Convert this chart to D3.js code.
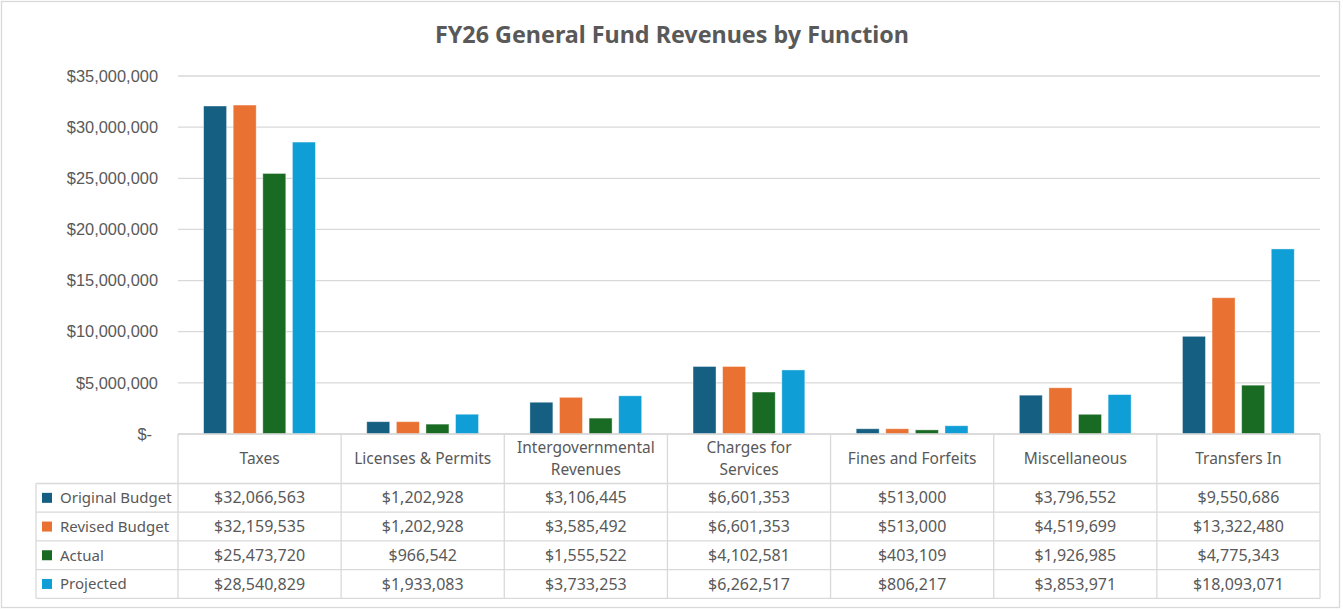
<!DOCTYPE html>
<html>
<head>
<meta charset="utf-8">
<script src="https://cdn.jsdelivr.net/npm/d3@7/dist/d3.min.js"></script>
<style>
  body { margin: 0; background: #fff; }
  svg { display: block; }
</style>
</head>
<body>
<div id="chart"></div>
<script>
const categories = ['Taxes', 'Licenses & Permits', 'Intergovernmental Revenues', 'Charges for Services',
  'Fines and Forfeits', 'Miscellaneous', 'Transfers In']
const categoryLines = [['Taxes'], ['Licenses & Permits'], ['Intergovernmental', 'Revenues'],
  ['Charges for', 'Services'], ['Fines and Forfeits'], ['Miscellaneous'], ['Transfers In']]
const seriesNames = ['Original Budget', 'Revised Budget', 'Actual', 'Projected']
const originalBudget = [32066563, 1202928, 3106445, 6601353, 513000, 3796552, 9550686]
const revisedBudget = [32159535, 1202928, 3585492, 6601353, 513000, 4519699, 13322480]
const actual = [25473720, 966542, 1555522, 4102581, 403109, 1926985, 4775343]
const projected = [28540829, 1933083, 3733253, 6262517, 806217, 3853971, 18093071]
const yTicks = [0, 5000000, 10000000, 15000000, 20000000, 25000000, 30000000, 35000000]
const colors = ['#156082', '#E97132', '#196B24', '#0F9ED5']

const seriesValues = [originalBudget, revisedBudget, actual, projected]

const W = 1343, H = 610
const PLOT_LEFT = 178, PLOT_RIGHT = 1320
const PLOT_TOP = 76, PLOT_BOTTOM = 434
const HEADER_BOTTOM = 483.5
const ROW_H = 28.7
const LEGEND_LEFT = 36
const GRID = '#d9d9d9'
const TEXT = '#595959'
const TABLE_FONT = "'Noto Sans', sans-serif"

const svg = d3.select('#chart').append('svg')
  .attr('width', W).attr('height', H)

// chart border
svg.append('rect')
  .attr('x', 1.5).attr('y', 1.5)
  .attr('width', 1338).attr('height', 606)
  .attr('fill', '#fff').attr('stroke', GRID).attr('stroke-width', 1.3)

// title
svg.append('text')
  .attr('x', 672).attr('y', 43)
  .attr('text-anchor', 'middle')
  .attr('font-family', TABLE_FONT)
  .attr('font-weight', 'bold')
  .attr('font-size', 23.3)
  .attr('fill', TEXT)
  .text('FY26 General Fund Revenues by Function')

const x = d3.scaleBand()
  .domain(categories)
  .range([PLOT_LEFT, PLOT_RIGHT])

const xInner = d3.scaleBand()
  .domain(seriesNames)
  .range([25.6, 137.4])
  .paddingInner(0.223)

const y = d3.scaleLinear()
  .domain([0, 35000000])
  .range([PLOT_BOTTOM, PLOT_TOP])

// gridlines
svg.append('g')
  .selectAll('line')
  .data(yTicks)
  .join('line')
  .attr('x1', PLOT_LEFT).attr('x2', PLOT_RIGHT)
  .attr('y1', d => y(d)).attr('y2', d => y(d))
  .attr('stroke', GRID).attr('stroke-width', 1.3)

// y axis labels
const fmt = d3.format('$,')
svg.append('g')
  .selectAll('text')
  .data(yTicks)
  .join('text')
  .attr('x', d => d === 0 ? 152 : 158)
  .attr('y', d => y(d))
  .attr('dy', '0.35em')
  .attr('text-anchor', 'end')
  .attr('font-family', "'Liberation Sans', Arial, sans-serif")
  .attr('font-size', 16.4)
  .attr('fill', TEXT)
  .text(d => d === 0 ? '$-' : fmt(d))

// bars
const groups = svg.append('g')
  .selectAll('g')
  .data(categories)
  .join('g')
  .attr('transform', d => `translate(${x(d)},0)`)

groups.selectAll('rect')
  .data((c, ci) => seriesNames.map((s, si) => ({ s, si, v: seriesValues[si][ci] })))
  .join('rect')
  .attr('x', d => xInner(d.s))
  .attr('width', xInner.bandwidth())
  .attr('y', d => y(d.v))
  .attr('height', d => y(0) - y(d.v))
  .attr('fill', d => colors[d.si])
  .attr('stroke', 'rgba(255,255,255,0.5)')
  .attr('stroke-width', 0.8)

// data table
const table = svg.append('g')
const tableBottom = HEADER_BOTTOM + ROW_H * seriesNames.length

// horizontal lines
table.append('line')
  .attr('x1', PLOT_LEFT).attr('x2', PLOT_RIGHT)
  .attr('y1', PLOT_BOTTOM).attr('y2', PLOT_BOTTOM)
  .attr('stroke', GRID).attr('stroke-width', 1.3)
table.selectAll('.hline')
  .data(d3.range(seriesNames.length + 1))
  .join('line')
  .attr('class', 'hline')
  .attr('x1', LEGEND_LEFT).attr('x2', PLOT_RIGHT)
  .attr('y1', i => HEADER_BOTTOM + i * ROW_H).attr('y2', i => HEADER_BOTTOM + i * ROW_H)
  .attr('stroke', GRID).attr('stroke-width', 1.3)

// vertical lines
const colEdges = categories.map(c => x(c)).concat([PLOT_RIGHT])
table.selectAll('.vline')
  .data(colEdges)
  .join('line')
  .attr('class', 'vline')
  .attr('x1', d => d).attr('x2', d => d)
  .attr('y1', PLOT_BOTTOM).attr('y2', tableBottom)
  .attr('stroke', GRID).attr('stroke-width', 1.3)
table.append('line')
  .attr('x1', LEGEND_LEFT).attr('x2', LEGEND_LEFT)
  .attr('y1', HEADER_BOTTOM).attr('y2', tableBottom)
  .attr('stroke', GRID).attr('stroke-width', 1.3)

// header labels
const headerMid = (PLOT_BOTTOM + HEADER_BOTTOM) / 2
table.selectAll('.head')
  .data(categories)
  .join('text')
  .attr('class', 'head')
  .attr('x', d => x(d) + x.bandwidth() / 2)
  .attr('y', headerMid)
  .attr('text-anchor', 'middle')
  .attr('font-family', TABLE_FONT)
  .attr('font-size', 15.5)
  .attr('fill', TEXT)
  .each(function (d, i) {
    const lines = categoryLines[i]
    const lh = 21.5
    d3.select(this).selectAll('tspan')
      .data(lines)
      .join('tspan')
      .attr('x', x(d) + x.bandwidth() / 2)
      .attr('y', (l, j) => headerMid + (j - (lines.length - 1) / 2) * lh)
      .attr('dy', '0.35em')
      .text(l => l)
  })

// rows
const rows = table.selectAll('.row')
  .data(seriesNames)
  .join('g')
  .attr('class', 'row')
  .attr('transform', (d, i) => `translate(0,${HEADER_BOTTOM + i * ROW_H + ROW_H / 2})`)

rows.append('rect')
  .attr('x', 42).attr('y', -5)
  .attr('width', 10).attr('height', 10)
  .attr('fill', (d, i) => colors[i])

rows.append('text')
  .attr('x', 60).attr('dy', '0.35em')
  .attr('font-family', TABLE_FONT)
  .attr('font-size', 15)
  .attr('fill', TEXT)
  .text(d => d)

rows.each(function (s, si) {
  d3.select(this).selectAll('.val')
    .data(seriesValues[si])
    .join('text')
    .attr('class', 'val')
    .attr('x', (v, ci) => x(categories[ci]) + x.bandwidth() / 2)
    .attr('dy', '0.35em')
    .attr('text-anchor', 'middle')
    .attr('font-family', TABLE_FONT)
    .attr('font-size', 16)
    .attr('fill', TEXT)
    .text(v => fmt(v))
})
</script>
</body>
</html>
